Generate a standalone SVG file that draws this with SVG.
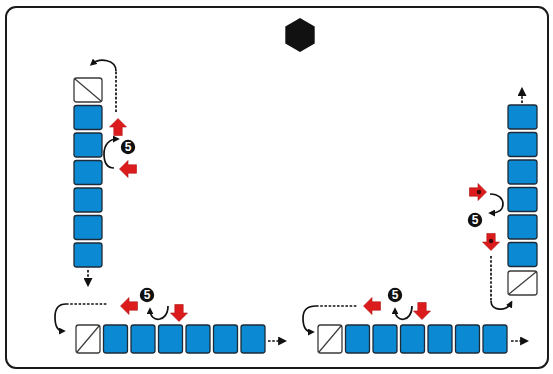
<svg xmlns="http://www.w3.org/2000/svg" xmlns:xlink="http://www.w3.org/1999/xlink" width="553" height="374" viewBox="0 0 553 374">
  <style>
    .frame { fill: #ffffff; stroke: #1a1a1a; stroke-width: 2; }
    .cell { fill: #0b8ad3; stroke: #1d2b38; stroke-width: 1.3; }
    .blank { fill: #ffffff; stroke: #3a3a3a; stroke-width: 1.3; }
    .diag { stroke: #3a3a3a; stroke-width: 1.2; }
    .dash { fill: none; stroke: #111; stroke-width: 1.7; stroke-dasharray: 2.6 1.6; }
    .curve { fill: none; stroke: #111; stroke-width: 1.7; }
    .red { fill: #dc1c1c; stroke: #b01010; stroke-width: 0.6; }
    .dot { fill: #3a0a0a; }
    .badge { fill: #111; }
    .num { fill: #ffffff; font-family: "Liberation Sans", Arial, sans-serif; font-weight: bold; font-size: 12px; text-anchor: middle; }
  </style>
  <defs>
    <marker id="tip" viewBox="0 0 10 10" refX="6" refY="5" markerWidth="7" markerHeight="7" markerUnits="userSpaceOnUse" orient="auto">
      <path d="M0,0 L10,5 L0,10 Z" fill="#111"/>
    </marker>
    <marker id="tipL" viewBox="0 0 10 10" refX="1" refY="5" markerWidth="9" markerHeight="9" markerUnits="userSpaceOnUse" orient="auto">
      <path d="M0,0 L10,5 L0,10 Z" fill="#111"/>
    </marker>
    <!-- block arrow pointing up, centred on the origin -->
    <path id="ra" class="red" d="M0,-8.5 L8.5,0 L4.2,0 L4.2,8.5 L-4.2,8.5 L-4.2,0 L-8.5,0 Z"/>
  </defs>

  <rect class="frame" x="6" y="7" width="542" height="361" rx="10" ry="10"/>

  <!-- hexagon symbol -->
  <g id="hexagon">
    <polygon points="300,18 314.7,26.5 314.7,43.5 300,52 285.3,43.5 285.3,26.5" fill="#111"/>
  </g>

  <!-- left column -->
  <g id="left-column">
    <g id="lc0"><rect class="blank" x="74" y="78" width="28" height="24" rx="2.5"/><line class="diag" x1="75" y1="79" x2="101" y2="101"/></g>
    <g id="lc1"><rect class="cell" x="74" y="105.5" width="28" height="24" rx="2.5"/></g>
    <g id="lc2"><rect class="cell" x="74" y="133" width="28" height="24" rx="2.5"/></g>
    <g id="lc3"><rect class="cell" x="74" y="160.5" width="28" height="24" rx="2.5"/></g>
    <g id="lc4"><rect class="cell" x="74" y="188" width="28" height="24" rx="2.5"/></g>
    <g id="lc5"><rect class="cell" x="74" y="215.5" width="28" height="24" rx="2.5"/></g>
    <g id="lc6"><rect class="cell" x="74" y="243" width="28" height="24" rx="2.5"/></g>
  </g>

  <!-- bottom left row -->
  <g id="bottom-left-row">
    <g id="bl0"><rect class="blank" x="76" y="325" width="24" height="28" rx="2.5"/><line class="diag" x1="77" y1="352" x2="99" y2="326"/></g>
    <g id="bl1"><rect class="cell" x="103.5" y="325" width="24" height="28" rx="2.5"/></g>
    <g id="bl2"><rect class="cell" x="131" y="325" width="24" height="28" rx="2.5"/></g>
    <g id="bl3"><rect class="cell" x="158.5" y="325" width="24" height="28" rx="2.5"/></g>
    <g id="bl4"><rect class="cell" x="186" y="325" width="24" height="28" rx="2.5"/></g>
    <g id="bl5"><rect class="cell" x="213.5" y="325" width="24" height="28" rx="2.5"/></g>
    <g id="bl6"><rect class="cell" x="241" y="325" width="24" height="28" rx="2.5"/></g>
  </g>

  <!-- bottom right row -->
  <g id="bottom-right-row">
    <g id="br0"><rect class="blank" x="318" y="325" width="24" height="28" rx="2.5"/><line class="diag" x1="319" y1="352" x2="341" y2="326"/></g>
    <g id="br1"><rect class="cell" x="345.5" y="325" width="24" height="28" rx="2.5"/></g>
    <g id="br2"><rect class="cell" x="373" y="325" width="24" height="28" rx="2.5"/></g>
    <g id="br3"><rect class="cell" x="400.5" y="325" width="24" height="28" rx="2.5"/></g>
    <g id="br4"><rect class="cell" x="428" y="325" width="24" height="28" rx="2.5"/></g>
    <g id="br5"><rect class="cell" x="455.5" y="325" width="24" height="28" rx="2.5"/></g>
    <g id="br6"><rect class="cell" x="483" y="325" width="24" height="28" rx="2.5"/></g>
  </g>

  <!-- right column -->
  <g id="right-column">
    <g id="rc1"><rect class="cell" x="508" y="105" width="29" height="24" rx="2.5"/></g>
    <g id="rc2"><rect class="cell" x="508" y="132.5" width="29" height="24" rx="2.5"/></g>
    <g id="rc3"><rect class="cell" x="508" y="160" width="29" height="24" rx="2.5"/></g>
    <g id="rc4"><rect class="cell" x="508" y="187.5" width="29" height="24" rx="2.5"/></g>
    <g id="rc5"><rect class="cell" x="508" y="215" width="29" height="24" rx="2.5"/></g>
    <g id="rc6"><rect class="cell" x="508" y="242.5" width="29" height="24" rx="2.5"/></g>
    <g id="rc0"><rect class="blank" x="508" y="271" width="29" height="24" rx="2.5"/><line class="diag" x1="509" y1="294" x2="536" y2="272"/></g>
  </g>

  <!-- step markers -->
  <g id="markers">
    <use xlink:href="#ra" transform="translate(118,127)"/>
    <use xlink:href="#ra" transform="translate(128,169) rotate(-90)"/>
    <use xlink:href="#ra" transform="translate(129,306) rotate(-90)"/>
    <use xlink:href="#ra" transform="translate(179,313) rotate(180)"/>
    <use xlink:href="#ra" transform="translate(372,306) rotate(-90)"/>
    <use xlink:href="#ra" transform="translate(422,311) rotate(180)"/>
    <use xlink:href="#ra" transform="translate(478,192) rotate(90)"/>
    <circle class="dot" cx="479" cy="192" r="2.2"/>
    <use xlink:href="#ra" transform="translate(491,242) rotate(180)"/>
    <circle class="dot" cx="491" cy="241" r="2.2"/>

    <g id="badge-left"><circle class="badge" cx="128" cy="147" r="7.2"/><text class="num" x="128" y="151.3">5</text></g>
    <g id="badge-bl"><circle class="badge" cx="147" cy="295" r="7.2"/><text class="num" x="147" y="299.3">5</text></g>
    <g id="badge-br"><circle class="badge" cx="395" cy="295" r="7.2"/><text class="num" x="395" y="299.3">5</text></g>
    <g id="badge-right"><circle class="badge" cx="475" cy="220" r="7.2"/><text class="num" x="475" y="224.3">5</text></g>
  </g>

  <!-- connectors -->
  <g id="connectors">
    <!-- left column -->
    <path class="dash" d="M116,112 V70"/>
    <path class="curve" d="M116,71 C116,60 100,57 92,64" marker-end="url(#tip)"/>
    <path class="curve" d="M114,168 C106,168 104,162 104,154 C104,144 110,139 117,139" marker-end="url(#tip)"/>
    <path class="dash" d="M88,270 V279" marker-end="url(#tipL)"/>

    <!-- bottom left -->
    <path class="dash" d="M66,304 H107"/>
    <path class="curve" d="M66,304 C58,304 55,309 55,317 C55,326 57,331 63,331" marker-end="url(#tip)"/>
    <path class="curve" d="M168,306 C168,323 150,323 150,310" marker-end="url(#tip)"/>
    <path class="dash" d="M268,341 H279" marker-end="url(#tipL)"/>

    <!-- bottom right -->
    <path class="dash" d="M316,306 H358"/>
    <path class="curve" d="M316,306 C307,306 303,311 303,318 C303,327 306,332 312,332" marker-end="url(#tip)"/>
    <path class="curve" d="M412,306 C412,323 395,323 395,310" marker-end="url(#tip)"/>
    <path class="dash" d="M511,341 H521" marker-end="url(#tipL)"/>

    <!-- right column -->
    <path class="dash" d="M522,103 V95" marker-end="url(#tipL)"/>
    <path class="curve" d="M490,194 C499,194 503,199 503,204 C503,210 498,213 491,213" marker-end="url(#tip)"/>
    <path class="dash" d="M491,256 V302"/>
    <path class="curve" d="M491,301 C491,311 506,312 511,303" marker-end="url(#tip)"/>
  </g>
</svg>
